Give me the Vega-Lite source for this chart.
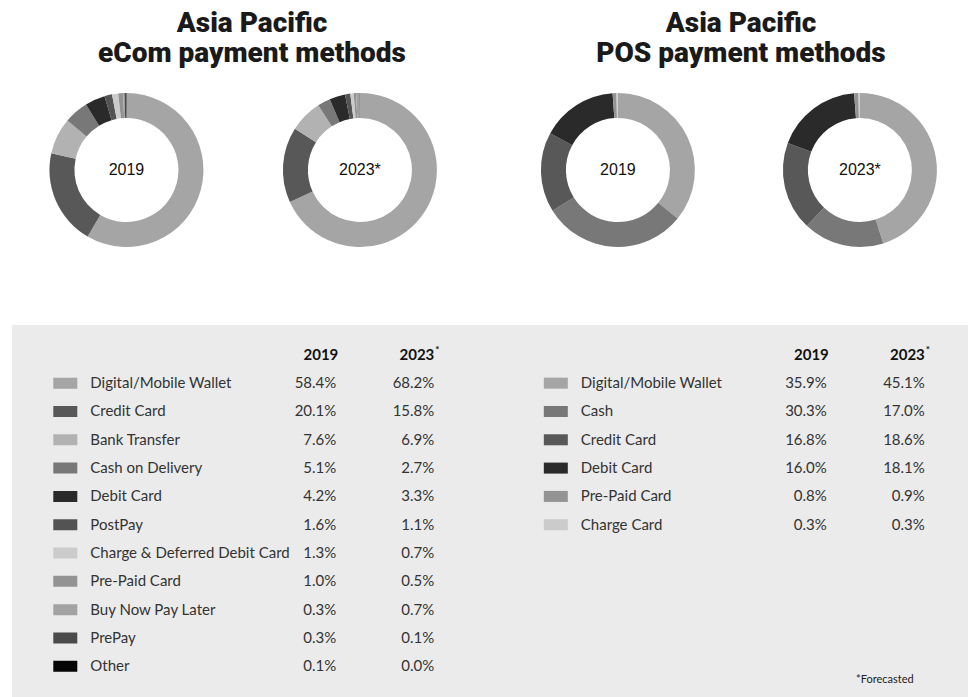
{
  "$schema": "https://vega.github.io/schema/vega-lite/v6.json",
  "padding": {"left": 12, "top": 10, "right": 0, "bottom": 0},
  "background": "white",
  "config": {
    "view": {"stroke": null},
    "text": {"font": "Lato", "color": "#333333"},
    "title": {"font": "Roboto", "fontWeight": 900, "fontSize": 28, "lineHeight": 30, "color": "#1a1a1a", "anchor": "middle", "offset": 8}
  },
  "datasets": {
    "shares": [
      {"panel": "eCom", "year": "2019", "method": "Digital/Mobile Wallet", "share": 0.584},
      {"panel": "eCom", "year": "2019", "method": "Credit Card", "share": 0.201},
      {"panel": "eCom", "year": "2019", "method": "Bank Transfer", "share": 0.076},
      {"panel": "eCom", "year": "2019", "method": "Cash on Delivery", "share": 0.051},
      {"panel": "eCom", "year": "2019", "method": "Debit Card", "share": 0.042},
      {"panel": "eCom", "year": "2019", "method": "PostPay", "share": 0.016},
      {"panel": "eCom", "year": "2019", "method": "Charge & Deferred Debit Card", "share": 0.013},
      {"panel": "eCom", "year": "2019", "method": "Pre-Paid Card", "share": 0.010},
      {"panel": "eCom", "year": "2019", "method": "Buy Now Pay Later", "share": 0.003},
      {"panel": "eCom", "year": "2019", "method": "PrePay", "share": 0.003},
      {"panel": "eCom", "year": "2019", "method": "Other", "share": 0.001},
      {"panel": "eCom", "year": "2023*", "method": "Digital/Mobile Wallet", "share": 0.682},
      {"panel": "eCom", "year": "2023*", "method": "Credit Card", "share": 0.158},
      {"panel": "eCom", "year": "2023*", "method": "Bank Transfer", "share": 0.069},
      {"panel": "eCom", "year": "2023*", "method": "Cash on Delivery", "share": 0.027},
      {"panel": "eCom", "year": "2023*", "method": "Debit Card", "share": 0.033},
      {"panel": "eCom", "year": "2023*", "method": "PostPay", "share": 0.011},
      {"panel": "eCom", "year": "2023*", "method": "Charge & Deferred Debit Card", "share": 0.007},
      {"panel": "eCom", "year": "2023*", "method": "Pre-Paid Card", "share": 0.005},
      {"panel": "eCom", "year": "2023*", "method": "Buy Now Pay Later", "share": 0.007},
      {"panel": "eCom", "year": "2023*", "method": "PrePay", "share": 0.001},
      {"panel": "eCom", "year": "2023*", "method": "Other", "share": 0.000},
      {"panel": "POS", "year": "2019", "method": "Digital/Mobile Wallet", "share": 0.359},
      {"panel": "POS", "year": "2019", "method": "Cash", "share": 0.303},
      {"panel": "POS", "year": "2019", "method": "Credit Card", "share": 0.168},
      {"panel": "POS", "year": "2019", "method": "Debit Card", "share": 0.160},
      {"panel": "POS", "year": "2019", "method": "Pre-Paid Card", "share": 0.008},
      {"panel": "POS", "year": "2019", "method": "Charge Card", "share": 0.003},
      {"panel": "POS", "year": "2023*", "method": "Digital/Mobile Wallet", "share": 0.451},
      {"panel": "POS", "year": "2023*", "method": "Cash", "share": 0.170},
      {"panel": "POS", "year": "2023*", "method": "Credit Card", "share": 0.186},
      {"panel": "POS", "year": "2023*", "method": "Debit Card", "share": 0.181},
      {"panel": "POS", "year": "2023*", "method": "Pre-Paid Card", "share": 0.009},
      {"panel": "POS", "year": "2023*", "method": "Charge Card", "share": 0.003}
    ]
  },
  "vconcat": [
    {
      "spacing": 0,
      "hconcat": [
        {
          "width": 478,
          "height": 188,
          "title": {"text": ["Asia Pacific", "eCom payment methods"], "dx": 1},
          "data": {"name": "shares"},
          "transform": [
            {"filter": "datum.panel === 'eCom'"},
            {"window": [{"op": "row_number", "as": "rank"}], "groupby": ["panel", "year"]},
            {"stack": "share", "groupby": ["panel", "year"], "sort": [{"field": "rank", "order": "ascending"}], "offset": "normalize", "as": ["t0", "t1"]}
          ],
          "encoding": {
            "x": {"field": "year", "type": "nominal", "scale": {"type": "point", "domain": ["2019", "2023*"], "padding": 0.5236, "align": 0.468}, "axis": null}
          },
          "layer": [
            {
              "mark": {"type": "arc", "innerRadius": 52, "outerRadius": 77},
              "encoding": {
                "theta": {"field": "t0", "type": "quantitative", "scale": {"domain": [0, 1]}},
                "theta2": {"field": "t1"},
                "color": {"field": "method", "type": "nominal", "legend": null,
                  "scale": {
                    "domain": ["Digital/Mobile Wallet", "Credit Card", "Bank Transfer", "Cash on Delivery", "Debit Card", "PostPay", "Charge & Deferred Debit Card", "Pre-Paid Card", "Buy Now Pay Later", "PrePay", "Other", "Cash", "Charge Card"],
                    "range": ["#a5a5a5", "#585858", "#b2b2b2", "#787878", "#2a2a2a", "#535353", "#cbcbcb", "#939393", "#a2a2a2", "#4a4a4a", "#050505", "#787878", "#cbcbcb"]
                  }}
              }
            },
            {
              "transform": [{"filter": "datum.rank === 1"}],
              "mark": {"type": "text", "font": "Liberation Sans", "fontSize": 16, "color": "#111111"},
              "encoding": {"text": {"field": "year"}}
            }
          ]
        },
        {
          "width": 478,
          "height": 188,
          "title": {"text": ["Asia Pacific", "POS payment methods"], "dx": 12},
          "data": {"name": "shares"},
          "transform": [
            {"filter": "datum.panel === 'POS'"},
            {"window": [{"op": "row_number", "as": "rank"}], "groupby": ["panel", "year"]},
            {"stack": "share", "groupby": ["panel", "year"], "sort": [{"field": "rank", "order": "ascending"}], "offset": "normalize", "as": ["t0", "t1"]}
          ],
          "encoding": {
            "x": {"field": "year", "type": "nominal", "scale": {"type": "point", "domain": ["2019", "2023*"], "padding": 0.4876, "align": 0.542}, "axis": null}
          },
          "layer": [
            {
              "mark": {"type": "arc", "innerRadius": 52, "outerRadius": 77},
              "encoding": {
                "theta": {"field": "t0", "type": "quantitative", "scale": {"domain": [0, 1]}},
                "theta2": {"field": "t1"},
                "color": {"field": "method", "type": "nominal", "legend": null}
              }
            },
            {
              "transform": [{"filter": "datum.rank === 1"}],
              "mark": {"type": "text", "font": "Liberation Sans", "fontSize": 16, "color": "#111111"},
              "encoding": {"text": {"field": "year"}}
            }
          ]
        }
      ]
    },
    {
      "width": 956,
      "height": 372,
      "view": {"fill": "#ebebeb", "stroke": null},
      "data": {"name": "shares"},
      "transform": [
        {"window": [{"op": "row_number", "as": "rank"}], "groupby": ["panel", "year"]}
      ],
      "encoding": {
        "x": {"field": "panel", "type": "nominal", "scale": {"type": "point", "domain": ["eCom", "POS"], "padding": 0.4745, "align": 0.1145}, "axis": null},
        "y": {"field": "rank", "type": "ordinal", "scale": {"type": "point", "domain": [0, 1, 2, 3, 4, 5, 6, 7, 8, 9, 10, 11, 12], "padding": 0.57, "align": 0.925}, "axis": null}
      },
      "layer": [
        {
          "transform": [{"filter": "datum.year === '2019'"}],
          "mark": {"type": "tick", "orient": "horizontal", "size": 24, "thickness": 11, "opacity": 1},
          "encoding": {"color": {"field": "method", "type": "nominal", "legend": null}}
        },
        {
          "transform": [{"filter": "datum.year === '2019'"}],
          "mark": {"type": "text", "align": "left", "dx": 25, "fontSize": 15},
          "encoding": {"text": {"field": "method"}}
        },
        {
          "transform": [{"filter": "datum.year === '2019'"}],
          "mark": {"type": "text", "align": "right", "dx": 271, "fontSize": 15},
          "encoding": {"text": {"field": "share", "format": ".1%"}}
        },
        {
          "transform": [{"filter": "datum.year === '2023*'"}],
          "mark": {"type": "text", "align": "right", "dx": 369, "fontSize": 15},
          "encoding": {"text": {"field": "share", "format": ".1%"}}
        },
        {
          "transform": [{"filter": "datum.year === '2019' && datum.rank === 1"}],
          "mark": {"type": "text", "align": "right", "dx": 273, "fontSize": 15, "fontWeight": "bold", "color": "#111111"},
          "encoding": {"y": {"datum": 0}, "text": {"field": "year"}}
        },
        {
          "transform": [{"filter": "datum.year === '2023*' && datum.rank === 1"}],
          "mark": {"type": "text", "align": "right", "dx": 369, "fontSize": 15, "fontWeight": "bold", "color": "#111111"},
          "encoding": {"y": {"datum": 0}, "text": {"value": "2023"}}
        },
        {
          "transform": [{"filter": "datum.year === '2023*' && datum.rank === 1"}],
          "mark": {"type": "text", "align": "left", "dx": 370, "dy": -5, "fontSize": 10, "fontWeight": "bold", "color": "#111111"},
          "encoding": {"y": {"datum": 0}, "text": {"value": "*"}}
        },
        {
          "transform": [{"filter": "datum.panel === 'POS' && datum.year === '2019' && datum.rank === 1"}],
          "mark": {"type": "text", "align": "center", "dx": 329, "dy": 14, "fontSize": 11, "color": "#222222"},
          "encoding": {"y": {"datum": 11}, "text": {"value": "*Forecasted"}}
        }
      ]
    }
  ],
  "spacing": 61
}
